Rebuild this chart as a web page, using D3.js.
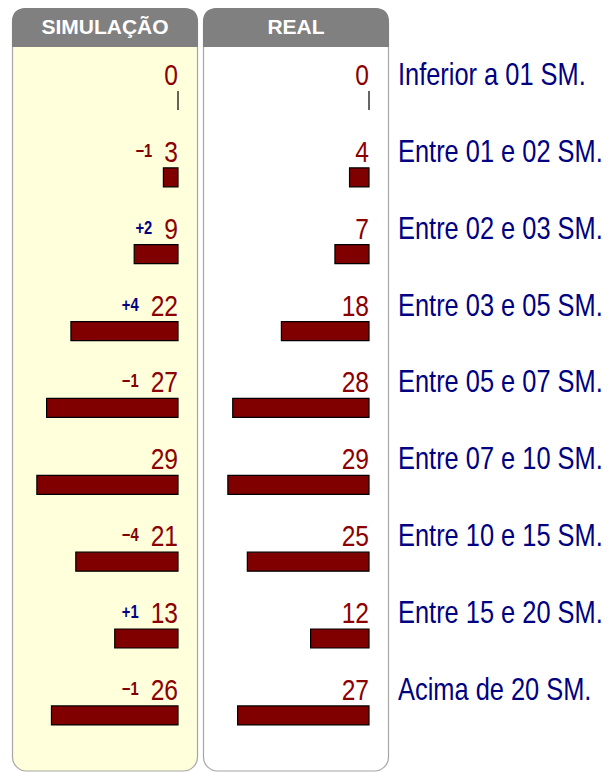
<!DOCTYPE html>
<html>
<head>
<meta charset="utf-8">
<script src="https://cdn.jsdelivr.net/npm/d3@7"></script>
<style>
  body { margin: 0; background: #fff; }
  svg { display: block; }
</style>
</head>
<body>
<div id="chart"></div>
<script>
// data
var categories = ["Inferior a 01 SM.", "Entre 01 e 02 SM.", "Entre 02 e 03 SM.", "Entre 03 e 05 SM.",
    "Entre 05 e 07 SM.", "Entre 07 e 10 SM.", "Entre 10 e 15 SM.", "Entre 15 e 20 SM.", "Acima de 20 SM."];
var simValues = [0, 3, 9, 22, 27, 29, 21, 13, 26];
var realValues = [0, 4, 7, 18, 28, 29, 25, 12, 27];
var diffLabels = ["", "\u22121", "+2", "+4", "\u22121", "", "\u22124", "+1", "\u22121"];
var panelTitles = ["SIMULAÇÃO", "REAL"];

var width = 609, height = 772;
var sans = "'Liberation Sans', Arial, sans-serif";
var squeeze = 0.82; // fake a narrow font

var svg = d3.select('#chart').append('svg')
    .attr('width', width)
    .attr('height', height);

// scales
var x = d3.scaleLinear().domain([0, 30]).range([0, 146]);
var y = d3.scaleBand().domain(categories).range([91, 91 + 9 * 76.86]);
var barH = 19;

//narrow text helper
function narrowText(sel, tx, ty) {
    return sel.append('text')
        .attr('transform', 'translate(' + tx + ',' + ty + ') scale(' + squeeze + ',1)')
        .style('font-family', sans);
}

var panels = [
    { title: panelTitles[0], x0: 12, x1: 198, fill: '#ffffdc', values: simValues, diffs: diffLabels },
    { title: panelTitles[1], x0: 203, x1: 389, fill: '#ffffff', values: realValues, diffs: null }
];

panels.forEach(function(p) {
    var w = p.x1 - p.x0, r = 14, top = 8, headH = 39;
    // panel body
    svg.append('rect')
        .attr('x', p.x0 + 0.5).attr('y', top + 0.5)
        .attr('width', w - 1).attr('height', height - top - 1.5)
        .attr('rx', r).attr('ry', r)
        .style('fill', p.fill)
        .style('stroke', '#a6a6a6')
        .style('stroke-width', 1.2);
    // header with rounded top
    var hx = p.x0, hy = top;
    svg.append('path')
        .attr('d', 'M' + hx + ',' + (hy + headH) + ' L' + hx + ',' + (hy + r) +
            ' Q' + hx + ',' + hy + ' ' + (hx + r) + ',' + hy +
            ' L' + (hx + w - r) + ',' + hy +
            ' Q' + (hx + w) + ',' + hy + ' ' + (hx + w) + ',' + (hy + r) +
            ' L' + (hx + w) + ',' + (hy + headH) + ' Z')
        .style('fill', '#808080');
    svg.append('text')
        .attr('x', p.x0 + w / 2).attr('y', 34)
        .attr('text-anchor', 'middle')
        .style('font-family', sans)
        .style('font-weight', 'bold')
        .style('font-size', '21px')
        .style('fill', '#fff')
        .text(p.title);

    var right = p.x1 - 20;
    var g = svg.append('g');

    // bars as paths so a zero value still shows as a thin line
    g.selectAll('path.bar').data(p.values)
        .enter().append('path')
        .attr('class', 'bar')
        .attr('d', function(d, i) {
            var y0 = y(categories[i]);
            return 'M' + right + ',' + y0 + 'H' + (right - x(d)) + 'V' + (y0 + barH) + 'H' + right + 'Z';
        })
        .style('fill', '#800000')
        .style('stroke', '#000')
        .style('stroke-width', 1.2);

    p.values.forEach(function(d, i) {
        var base = y(categories[i]) - 6;
        var t = narrowText(g, right, base)
            .attr('text-anchor', 'end')
            .style('font-size', '30px')
            .style('fill', '#8b0000')
            .text(d);
        var lbl = p.diffs ? p.diffs[i] : '';
        if (!lbl) return;
        var len = t.node().getComputedTextLength() * squeeze;
        narrowText(g, right - len - 12, base - 5)
            .attr('text-anchor', 'end')
            .style('font-weight', 'bold')
            .style('font-size', '18px')
            .style('fill', lbl.charAt(0) === '+' ? '#000080' : '#800000')
            .text(lbl);
    });
});

// category labels
categories.forEach(function(c) {
    narrowText(svg, 398, y(c) - 6)
        .style('font-size', '31px')
        .style('fill', '#000080')
        .text(c);
});
</script>
</body>
</html>
